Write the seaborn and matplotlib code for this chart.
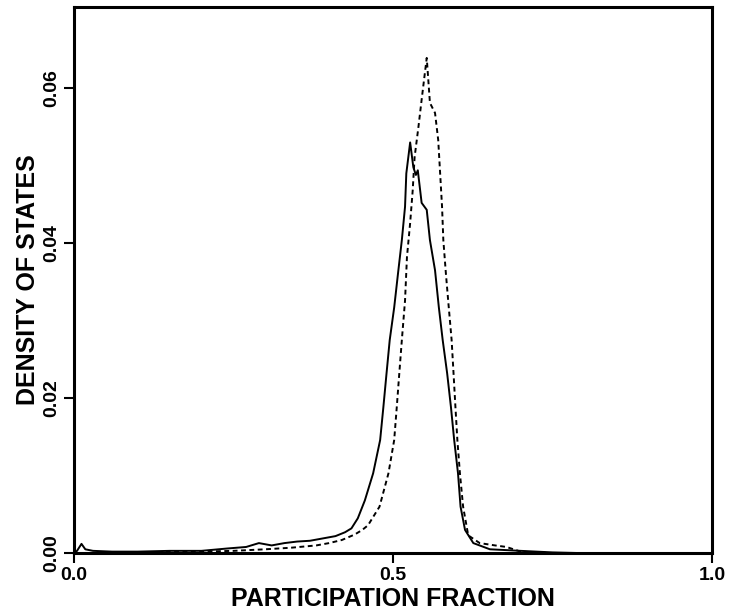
import numpy as np
import pandas as pd
import matplotlib
matplotlib.use("Agg")
import matplotlib.pyplot as plt
import seaborn as sns

# --- data ---
solid_x = [0.000, 0.005, 0.012, 0.018, 0.030, 0.060, 0.100, 0.150, 0.200, 0.240,
           0.270, 0.290, 0.310, 0.330, 0.350, 0.370, 0.390, 0.410, 0.425, 0.435,
           0.445, 0.456, 0.469, 0.480, 0.485, 0.490, 0.495, 0.502, 0.508, 0.514,
           0.519, 0.521, 0.527, 0.532, 0.536, 0.539, 0.545, 0.553, 0.558, 0.566,
           0.572, 0.578, 0.585, 0.591, 0.596, 0.602, 0.606, 0.613, 0.626, 0.652,
           0.700, 0.750, 0.800, 1.000]
solid_y = [0.0000, 0.0003, 0.0012, 0.0005, 0.0003, 0.0002, 0.0002, 0.0003, 0.0003, 0.0006,
           0.0008, 0.0013, 0.0010, 0.0013, 0.0015, 0.0016, 0.0019, 0.0022, 0.0027, 0.0032,
           0.0045, 0.0068, 0.0103, 0.0146, 0.0188, 0.0232, 0.0275, 0.0317, 0.0361, 0.0404,
           0.0447, 0.0490, 0.0530, 0.0498, 0.0488, 0.0494, 0.0452, 0.0443, 0.0404, 0.0365,
           0.0317, 0.0275, 0.0232, 0.0188, 0.0146, 0.0103, 0.0060, 0.0030, 0.0013, 0.0005,
           0.0003, 0.0001, 0.0000, 0.0000]

dashed_x = [0.000, 0.100, 0.200, 0.250, 0.300, 0.340, 0.380, 0.400, 0.420, 0.440,
            0.452, 0.461, 0.470, 0.479, 0.493, 0.502, 0.506, 0.510, 0.514, 0.519,
            0.522, 0.527, 0.531, 0.534, 0.540, 0.545, 0.550, 0.553, 0.558, 0.566,
            0.571, 0.574, 0.577, 0.579, 0.583, 0.587, 0.592, 0.595, 0.598, 0.601,
            0.605, 0.610, 0.618, 0.636, 0.660, 0.678, 0.700, 0.750, 1.000]
dashed_y = [0.0000, 0.0001, 0.0002, 0.0003, 0.0005, 0.0007, 0.0010, 0.0013, 0.0017, 0.0024,
            0.0030, 0.0036, 0.0048, 0.0060, 0.0103, 0.0146, 0.0188, 0.0232, 0.0275, 0.0326,
            0.0382, 0.0426, 0.0468, 0.0511, 0.0550, 0.0585, 0.0619, 0.0639, 0.0581, 0.0568,
            0.0533, 0.0490, 0.0447, 0.0404, 0.0361, 0.0322, 0.0275, 0.0232, 0.0188, 0.0146,
            0.0103, 0.0060, 0.0023, 0.0013, 0.0010, 0.0008, 0.0002, 0.0000, 0.0000]

x_ticks = [0.0, 0.5, 1.0]
x_tick_labels = ["0.0", "0.5", "1.0"]
y_ticks = [0.00, 0.02, 0.04, 0.06]
y_tick_labels = ["0.00", "0.02", "0.04", "0.06"]

df = pd.concat([
    pd.DataFrame({"x": solid_x, "y": solid_y, "series": "solid"}),
    pd.DataFrame({"x": dashed_x, "y": dashed_y, "series": "dashed"}),
], ignore_index=True)

sns.set_style("ticks")
plt.rcParams["font.family"] = ["Liberation Sans", "DejaVu Sans"]
plt.rcParams["font.weight"] = "bold"
plt.rcParams["text.color"] = "black"
plt.rcParams["axes.labelcolor"] = "black"

fig = plt.figure(figsize=(7.31, 6.16), dpi=100)
ax = fig.add_axes([0.101, 0.102, 0.873, 0.887])

sns.lineplot(data=df, x="x", y="y", style="series", color="black",
             dashes={"solid": "", "dashed": (2.5, 1.8)},
             linewidth=1.4, legend=False, ax=ax, sort=False)

ax.set_xlim(0.0, 1.0)
ax.set_ylim(0.0, 0.0705)
ax.set_xticks(x_ticks)
ax.set_xticklabels(x_tick_labels, fontsize=14, fontweight="bold")
ax.set_yticks(y_ticks)
ax.set_yticklabels(y_tick_labels, fontsize=14, fontweight="bold",
                   rotation=90, va="center")
ax.tick_params(direction="out", length=7, width=1.5, colors="black", pad=3)

for s in ax.spines.values():
    s.set_linewidth(2.2)
    s.set_color("black")
    s.set_visible(True)

ax.set_xlabel("PARTICIPATION FRACTION", fontsize=18, fontweight="bold",
              labelpad=2, color="black")
ax.set_ylabel("DENSITY OF STATES", fontsize=18, fontweight="bold",
              labelpad=2, color="black")

fig.savefig("out.png", dpi=100)
